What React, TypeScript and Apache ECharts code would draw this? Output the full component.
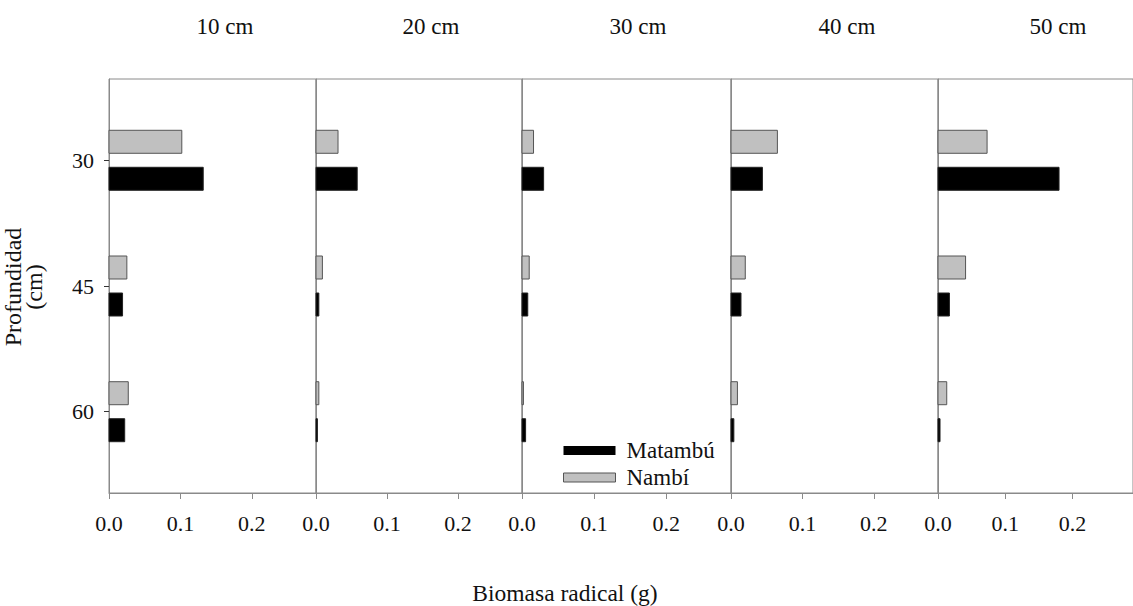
import React, { useEffect, useRef } from "react";
import * as echarts from "echarts";

const depths = [30, 45, 60];
const panelTitles = ["10 cm", "20 cm", "30 cm", "40 cm", "50 cm"];
const xTickValues = [0, 0.1, 0.2];

const matambu10 = [0.132, 0.019, 0.022];
const nambi10 = [0.102, 0.025, 0.027];
const matambu20 = [0.058, 0.004, 0.002];
const nambi20 = [0.031, 0.009, 0.004];
const matambu30 = [0.030, 0.008, 0.005];
const nambi30 = [0.016, 0.010, 0.002];
const matambu40 = [0.044, 0.014, 0.004];
const nambi40 = [0.065, 0.020, 0.009];
const matambu50 = [0.180, 0.017, 0.003];
const nambi50 = [0.073, 0.041, 0.013];

const matambuPanels = [matambu10, matambu20, matambu30, matambu40, matambu50];
const nambiPanels = [nambi10, nambi20, nambi30, nambi40, nambi50];

const FONT = "Liberation Serif";
const FRAME = "#8a8a8a";
const panelLefts = [109, 316, 522, 731, 938];
const panelWidths = [207, 206, 209, 207, 207];
const titleX = [225, 431, 638, 847, 1058];

export default function App() {
  const ref = useRef<HTMLDivElement>(null);
  useEffect(() => {
    if (!ref.current) return;
    const chart = echarts.init(ref.current, null, { renderer: "svg" });

    const grids: any[] = [];
    const xAxes: any[] = [];
    const yAxes: any[] = [];
    const series: any[] = [];

    const makeRender = (offset: number, fill: string, stroke: string) =>
      (params: any, api: any) => {
        const v = api.value(0);
        const d = api.value(1);
        const p0 = api.coord([0, d]);
        const p1 = api.coord([v, d]);
        const h = 23;
        return {
          type: "rect",
          shape: { x: p0[0], y: p0[1] + offset - h / 2, width: Math.max(p1[0] - p0[0], 1), height: h },
          style: { fill, stroke, lineWidth: 1 },
        };
      };

    panelLefts.forEach((left, i) => {
      grids.push({
        left,
        width: panelWidths[i],
        top: 79,
        height: 414,
        show: true,
        borderColor: FRAME,
        borderWidth: 1,
        backgroundColor: "transparent",
      });
      xAxes.push({
        type: "value",
        gridIndex: i,
        min: 0,
        max: 0.29,
        interval: 0.1,
        splitLine: { show: false },
        axisLine: { show: true, lineStyle: { color: FRAME } },
        axisTick: { show: true, inside: false, length: 6, lineStyle: { color: FRAME }, customValues: [0, 0.1, 0.2, 0.29] },
        axisLabel: {
          customValues: xTickValues,
          formatter: (v: number) => v.toFixed(1),
          color: "#111",
          fontFamily: FONT,
          fontSize: 22,
          margin: 19,
        },
      });
      yAxes.push({
        type: "value",
        gridIndex: i,
        inverse: true,
        min: 20.3,
        max: 69.7,
        splitLine: { show: false },
        axisLine: { show: true, lineStyle: { color: FRAME } },
        axisTick: { show: i === 0, length: 5, lineStyle: { color: "#333" }, customValues: depths },
        axisLabel: {
          show: i === 0,
          customValues: depths,
          color: "#111",
          fontFamily: FONT,
          fontSize: 22,
          margin: 15,
        },
      });
      series.push({
        name: "Nambí",
        type: "custom",
        xAxisIndex: i,
        yAxisIndex: i,
        itemStyle: { color: "#c0c0c0", borderColor: "#555", borderWidth: 1 },
        renderItem: makeRender(-18.5, "#c0c0c0", "#555"),
        data: depths.map((d, k) => [nambiPanels[i][k], d]),
      });
      series.push({
        name: "Matambú",
        type: "custom",
        xAxisIndex: i,
        yAxisIndex: i,
        itemStyle: { color: "#000" },
        renderItem: makeRender(18.5, "#000", "#222"),
        data: depths.map((d, k) => [matambuPanels[i][k], d]),
      });
    });

    const graphics: any[] = panelTitles.map((t, i) => ({
      type: "text",
      x: titleX[i],
      y: 26,
      style: { text: t, fontFamily: FONT, fontSize: 23, fill: "#111", textAlign: "center", textVerticalAlign: "middle" },
    }));
    graphics.push({
      type: "text",
      x: 565,
      y: 593,
      style: { text: "Biomasa radical (g)", fontFamily: FONT, fontSize: 23.5, fill: "#111", textAlign: "center", textVerticalAlign: "middle" },
    });
    graphics.push({
      type: "text",
      x: 23,
      y: 287,
      rotation: Math.PI / 2,
      style: {
        text: "Profundidad\n(cm)",
        fontFamily: FONT,
        fontSize: 24,
        lineHeight: 21,
        fill: "#111",
        textAlign: "center",
        textVerticalAlign: "middle",
      },
    });

    chart.setOption({
      animation: false,
      backgroundColor: "#fff",
      grid: grids,
      xAxis: xAxes,
      yAxis: yAxes,
      series,
      graphic: graphics,
      legend: {
        orient: "vertical",
        left: 563,
        top: 439,
        padding: 0,
        icon: "rect",
        itemWidth: 52,
        itemHeight: 9,
        itemGap: 4,
        selectedMode: false,
        textStyle: { fontFamily: FONT, fontSize: 23, lineHeight: 22, color: "#111", padding: [0, 0, 0, 6] },
        data: [
          { name: "Matambú", itemStyle: { color: "#000" } },
          { name: "Nambí", itemStyle: { color: "#c0c0c0", borderColor: "#555", borderWidth: 1 } },
        ],
      },
    });
    return () => chart.dispose();
  }, []);
  return (
    <div
      ref={ref}
      style={{ position: "fixed", left: 0, top: 0, width: 1133, height: 606, background: "#fff" }}
    />
  );
}
